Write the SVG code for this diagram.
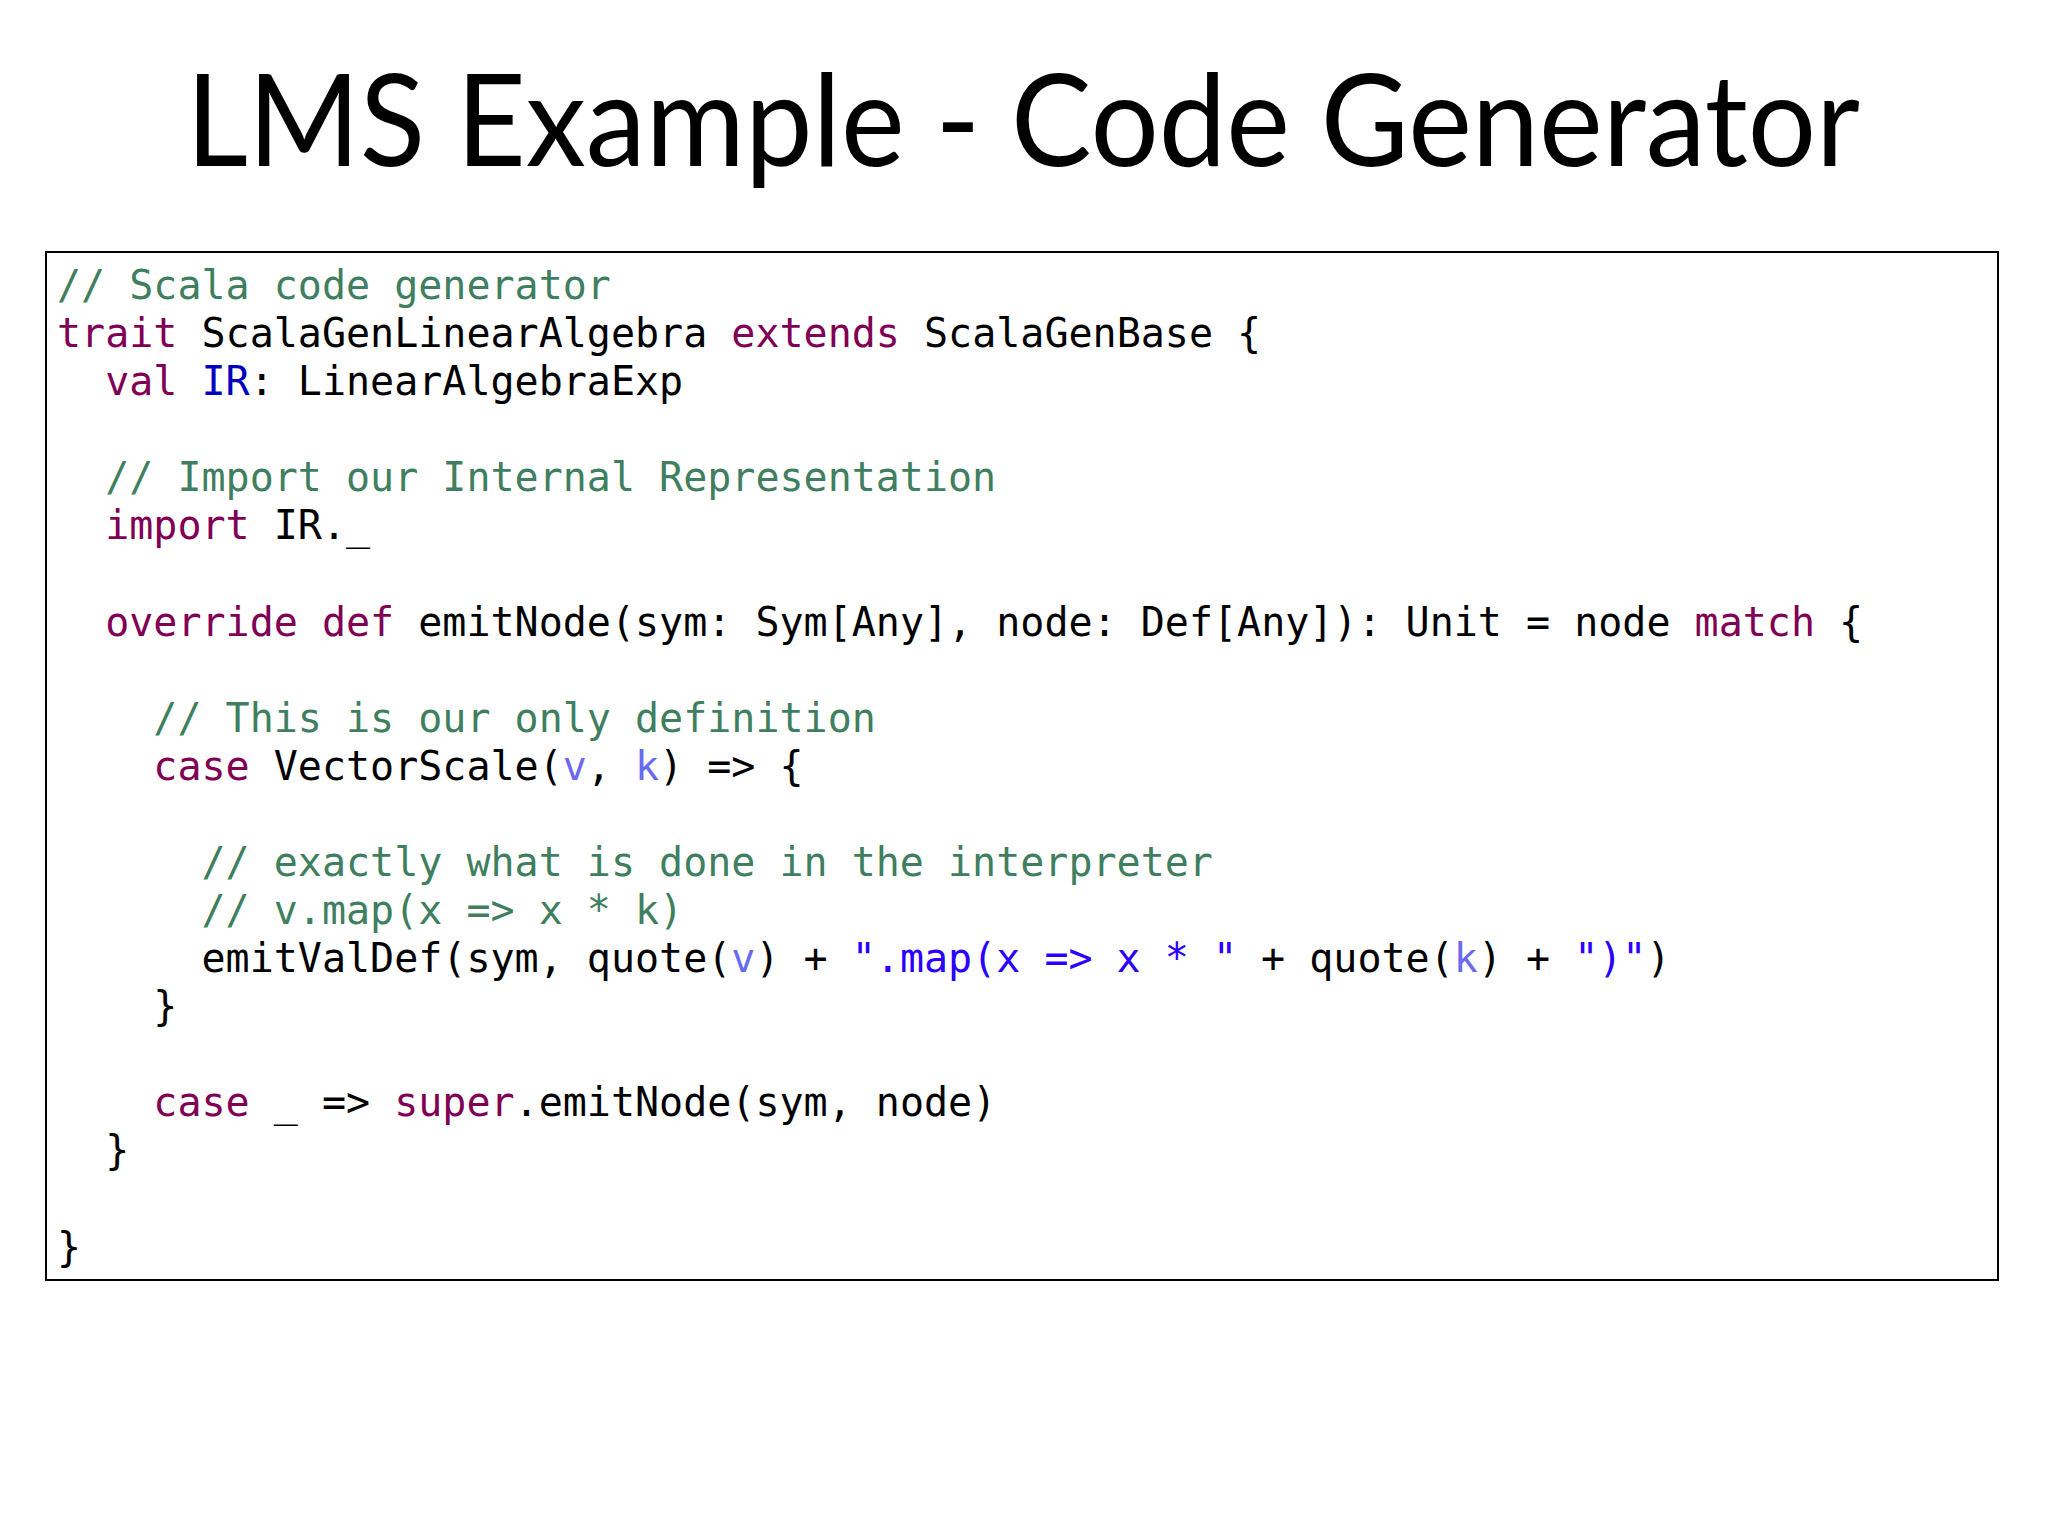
<svg xmlns="http://www.w3.org/2000/svg" width="2048" height="1536" viewBox="0 0 2048 1536">
<style>
.c{font-family:"DejaVu Sans Mono",monospace;font-size:40px;fill:#000;white-space:pre}
.cm{fill:#3f7f5f}.kw{fill:#7f0055}.ir{fill:#0000c0}.vr{fill:#6a6af0}.st{fill:#2a00ff}
</style>
<rect width="2048" height="1536" fill="#fff"/>
<g id="title"><text x="1023" y="166" text-anchor="middle" font-family="Lato, 'Open Sans', sans-serif" font-size="128" textLength="1674" lengthAdjust="spacingAndGlyphs">LMS Example - Code Generator</text></g>
<g id="codebox">
<rect x="46" y="252" width="1952" height="1028" fill="none" stroke="#000" stroke-width="2"/>
<text class="c" xml:space="preserve">
<tspan x="57" y="299" class="cm">// Scala code generator</tspan>
<tspan x="57" y="347"><tspan class="kw">trait</tspan> ScalaGenLinearAlgebra <tspan class="kw">extends</tspan> ScalaGenBase {</tspan>
<tspan x="57" y="395">  <tspan class="kw">val</tspan> <tspan class="ir">IR</tspan>: LinearAlgebraExp</tspan>
<tspan x="57" y="491" class="cm">  // Import our Internal Representation</tspan>
<tspan x="57" y="539">  <tspan class="kw">import</tspan> IR._</tspan>
<tspan x="57" y="636">  <tspan class="kw">override</tspan> <tspan class="kw">def</tspan> emitNode(sym: Sym[Any], node: Def[Any]): Unit = node <tspan class="kw">match</tspan> {</tspan>
<tspan x="57" y="732" class="cm">    // This is our only definition</tspan>
<tspan x="57" y="780">    <tspan class="kw">case</tspan> VectorScale(<tspan class="vr">v</tspan>, <tspan class="vr">k</tspan>) =&gt; {</tspan>
<tspan x="57" y="876" class="cm">      // exactly what is done in the interpreter</tspan>
<tspan x="57" y="924" class="cm">      // v.map(x =&gt; x * k)</tspan>
<tspan x="57" y="972">      emitValDef(sym, quote(<tspan class="vr">v</tspan>) + <tspan class="st">".map(x =&gt; x * "</tspan> + quote(<tspan class="vr">k</tspan>) + <tspan class="st">")"</tspan>)</tspan>
<tspan x="57" y="1020">    }</tspan>
<tspan x="57" y="1116">    <tspan class="kw">case</tspan> _ =&gt; <tspan class="kw">super</tspan>.emitNode(sym, node)</tspan>
<tspan x="57" y="1164">  }</tspan>
<tspan x="57" y="1261">}</tspan>
</text>
</g>
</svg>
